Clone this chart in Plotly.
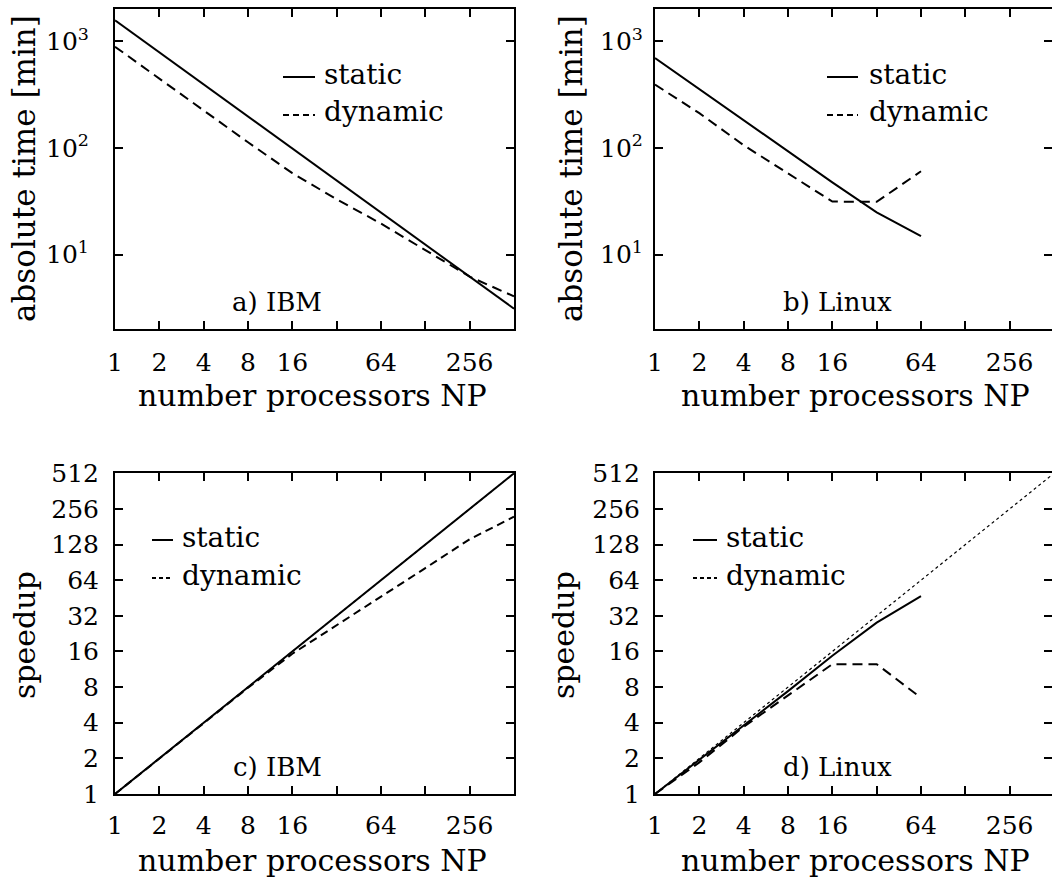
import plotly.graph_objects as go
import math

# ---------------- data ----------------
np_ibm = [1, 2, 4, 8, 16, 32, 64, 128, 256, 512]
np_linux = [1, 2, 4, 8, 16, 32, 64]

# absolute time [min]
time_ibm_static = [1580, 790, 395, 198, 99, 49.5, 24.7, 12.4, 6.2, 3.1]
time_ibm_dynamic = [891, 446, 224, 113, 58, 33, 19.5, 10.9, 6.2, 4.05]
time_linux_static = [698, 358, 184, 94, 47.5, 24.9, 14.9]
time_linux_dynamic = [393, 212, 106, 58, 31.4, 31.2, 60.4]

# speedup
speedup_ibm_static = [1, 2, 4, 8, 16, 32, 64, 128, 256, 512]
speedup_ibm_dynamic = [1, 2, 4, 7.9, 15.3, 26.6, 46, 81, 142, 220]
speedup_linux_static = [1, 1.95, 3.8, 7.4, 14.7, 28, 47]
speedup_linux_dynamic = [1, 1.85, 3.7, 6.8, 12.5, 12.5, 6.5]
ideal_np = [1, 2, 4, 8, 16, 32, 64, 128, 256, 512]
ideal_speedup = [1, 2, 4, 8, 16, 32, 64, 128, 256, 512]

x_tickvals = [1, 2, 4, 8, 16, 32, 64, 128, 256, 512]
x_ticktext = ["1", "2", "4", "8", "16", "", "64", "", "256", ""]
time_tickvals = [10, 100, 1000]
time_ticktext = ["10<sup>1</sup>", "10<sup>2</sup>", "10<sup>3</sup>"]
speed_tickvals = [1, 2, 4, 8, 16, 32, 64, 128, 256, 512]
speed_ticktext = ["1", "2", "4", "8", "16", "32", "64", "128", "256", "512"]

panel_labels = ["a) IBM", "b) Linux", "c) IBM", "d) Linux"]
legend_names = ["static", "dynamic"]
xtitle = "number processors NP"
ytitle_time = "absolute time [min]"
ytitle_speed = "speedup"

# ---------------- layout geometry ----------------
W, H = 1052, 880
FONT = "DejaVu Serif"

def px_x(p):
    return p / W

def px_y(p):
    return 1 - p / H

dom = {
    "a": ([px_x(115), px_x(514)], [px_y(329), px_y(9.3)]),
    "b": ([px_x(655), 1.0], [px_y(329), px_y(9.3)]),
    "c": ([px_x(115), px_x(514)], [px_y(794), px_y(473.3)]),
    "d": ([px_x(655), 1.0], [px_y(794), px_y(473.3)]),
}

fig = go.Figure()

DASH = "10px,6px"
DASH_C = "8px,5px"
LW = 2

def add(x, y, xa, ya, dash="solid", width=LW):
    fig.add_trace(go.Scatter(x=x, y=y, mode="lines", xaxis=xa, yaxis=ya,
                             line=dict(color="black", width=width, dash=dash),
                             showlegend=False, hoverinfo="skip"))

add(np_ibm, time_ibm_static, "x", "y")
add(np_ibm, time_ibm_dynamic, "x", "y", DASH)
add(np_linux, time_linux_static, "x2", "y2")
add(np_linux, time_linux_dynamic, "x2", "y2", DASH)
add(ideal_np, ideal_speedup, "x3", "y3", "dot", 1.2)
add(np_ibm, speedup_ibm_static, "x3", "y3")
add(np_ibm, speedup_ibm_dynamic, "x3", "y3", DASH_C)
add(ideal_np, ideal_speedup, "x4", "y4", "dot", 1.2)
add(np_linux, speedup_linux_static, "x4", "y4")
add(np_linux, speedup_linux_dynamic, "x4", "y4", DASH)

tickfont = dict(family=FONT, size=25, color="black")

def xaxis(domain, rng, standoff, anchor):
    return dict(domain=domain, type="log", range=rng, tickvals=x_tickvals,
                ticktext=x_ticktext, ticks="inside", ticklen=8, tickwidth=1.5,
                tickcolor="black", showline=True, linewidth=2, linecolor="black",
                mirror="allticks", showgrid=False, zeroline=False, anchor=anchor,
                tickfont=tickfont, ticklabelstandoff=standoff, automargin=False)

def yaxis(domain, rng, tv, tt, anchor, standoff):
    return dict(domain=domain, type="log", range=rng, tickvals=tv, ticktext=tt,
                ticks="inside", ticklen=8, tickwidth=1.5, tickcolor="black",
                showline=True, linewidth=2, linecolor="black", mirror="allticks",
                showgrid=False, zeroline=False, tickfont=tickfont, anchor=anchor,
                ticklabelstandoff=standoff, automargin=False)

full_x = [0, math.log10(512)]
right_x = [0, math.log10(512) * (397 / 399)]
time_rng = [math.log10(2), math.log10(2000)]
speed_rng = [0, math.log10(512)]

fig.update_layout(
    width=W, height=H, autosize=False,
    margin=dict(l=0, r=0, t=0, b=0),
    paper_bgcolor="white", plot_bgcolor="white",
    xaxis=xaxis(dom["a"][0], full_x, 10, "y"),
    yaxis=yaxis(dom["a"][1], time_rng, time_tickvals, time_ticktext, "x", 19),
    xaxis2=xaxis(dom["b"][0], right_x, 10, "y2"),
    yaxis2=yaxis(dom["b"][1], time_rng, time_tickvals, time_ticktext, "x2", 5),
    xaxis3=xaxis(dom["c"][0], full_x, 8, "y3"),
    yaxis3=yaxis(dom["c"][1], speed_rng, speed_tickvals, speed_ticktext, "x3", 9),
    xaxis4=xaxis(dom["d"][0], right_x, 8, "y4"),
    yaxis4=yaxis(dom["d"][1], speed_rng, speed_tickvals, speed_ticktext, "x4", 8),
)

annots = []
shapes = []

def text(xp, yp, s, size, xanchor="center", angle=0):
    annots.append(dict(x=px_x(xp), y=px_y(yp), xref="paper", yref="paper", text=s,
                       showarrow=False, xanchor=xanchor, yanchor="middle", textangle=angle,
                       font=dict(family=FONT, size=size, color="black")))

# axis titles
for cx in (312, 855):
    text(cx, 396, xtitle, 30)
    text(cx, 860, xtitle, 30)
text(24, 169, ytitle_time, 31, angle=-90)
text(571, 169, ytitle_time, 31, angle=-90)
text(24, 635, ytitle_speed, 30, angle=-90)
text(563, 635, ytitle_speed, 30, angle=-90)

# panel labels
text(277, 302, panel_labels[0], 26)
text(837, 302, panel_labels[1], 26)
text(277, 767, panel_labels[2], 26)
text(837, 767, panel_labels[3], 26)

# legends
def legend(x0, x1, ys, yd, tx, dash_d):
    shapes.append(dict(type="line", xref="paper", yref="paper", x0=px_x(x0), x1=px_x(x1),
                       y0=px_y(ys), y1=px_y(ys), line=dict(color="black", width=2)))
    shapes.append(dict(type="line", xref="paper", yref="paper", x0=px_x(x0), x1=px_x(x1),
                       y0=px_y(yd), y1=px_y(yd), line=dict(color="black", width=2, dash=dash_d)))
    text(tx, ys - 3, legend_names[0], 28, xanchor="left")
    text(tx, yd - 3, legend_names[1], 28, xanchor="left")

legend(283, 315, 77, 115, 322, "6px,4px")
legend(827, 858, 77, 115, 867, "6px,4px")
legend(152, 173, 540, 578, 180, "4px,3px")
legend(693, 717, 540, 578, 724, "4px,3px")

fig.update_layout(annotations=annots, shapes=shapes)

fig.write_html("out.html", config={"displayModeBar": False},
               post_script="document.body.style.margin='0px';")
